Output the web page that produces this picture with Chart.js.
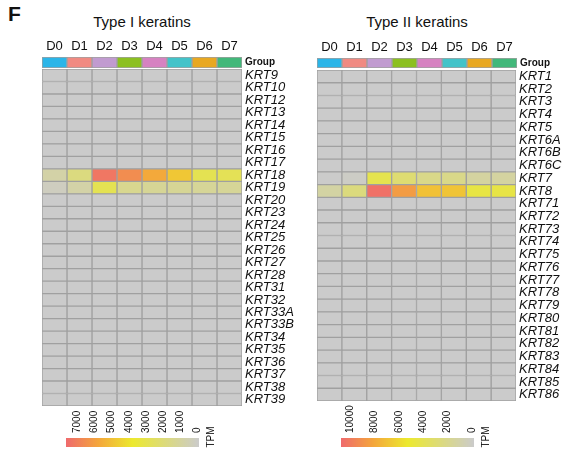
<!DOCTYPE html>
<html>
<head>
<meta charset="utf-8">
<script src="https://cdn.jsdelivr.net/npm/chart.js"></script>
<style>
body { margin: 0; width: 562px; height: 450px; position: relative; overflow: hidden; background: #fff; font-family: 'Liberation Sans', Arial, sans-serif; }
canvas { position: absolute; }
.txt { position: absolute; white-space: nowrap; color: #111; }
.tpm { position: absolute; width: 30px; height: 12px; line-height: 12px; font-size: 10px; text-align: center; transform: rotate(-90deg); color: #111; }
</style>
</head>
<body>
<div class="txt" style="left:8px;top:2px;font-size:21px;font-weight:bold">F</div>
<div class="txt" style="left:42px;width:200px;top:13px;text-align:center;font-size:15px">Type I keratins</div>
<div class="txt" style="left:317px;width:200px;top:13px;text-align:center;font-size:15px">Type II keratins</div>

<canvas id="groupI" width="262" height="32" style="left:42px;top:36px"></canvas>
<canvas id="heatI" width="258" height="337" style="left:42px;top:69px"></canvas>
<canvas id="barI" width="153" height="49" style="left:56px;top:398px"></canvas>
<div class="tpm" style="left:196px;top:431px">TPM</div>

<canvas id="groupII" width="245" height="31" style="left:317px;top:37px"></canvas>
<canvas id="heatII" width="245" height="331" style="left:317px;top:70px"></canvas>
<canvas id="barII" width="153" height="49" style="left:331px;top:398px"></canvas>
<div class="tpm" style="left:471px;top:431px">TPM</div>

<script>
const days = ['D0', 'D1', 'D2', 'D3', 'D4', 'D5', 'D6', 'D7'];
const groupColors = ['#2bb5e8', '#f08a82', '#c19bd0', '#8cc021', '#d682c1', '#43c3c9', '#e8a822', '#42b87a'];

const typeIGenes = ['KRT9', 'KRT10', 'KRT12', 'KRT13', 'KRT14', 'KRT15', 'KRT16', 'KRT17', 'KRT18', 'KRT19',
  'KRT20', 'KRT23', 'KRT24', 'KRT25', 'KRT26', 'KRT27', 'KRT28', 'KRT31', 'KRT32', 'KRT33A', 'KRT33B',
  'KRT34', 'KRT35', 'KRT36', 'KRT37', 'KRT38', 'KRT39'];
const typeIIGenes = ['KRT1', 'KRT2', 'KRT3', 'KRT4', 'KRT5', 'KRT6A', 'KRT6B', 'KRT6C', 'KRT7', 'KRT8',
  'KRT71', 'KRT72', 'KRT73', 'KRT74', 'KRT75', 'KRT76', 'KRT77', 'KRT78', 'KRT79', 'KRT80', 'KRT81',
  'KRT82', 'KRT83', 'KRT84', 'KRT85', 'KRT86'];

// TPM per day, genes not listed read as ~0
const krt18 = [900, 1900, 7400, 6700, 5800, 4900, 3000, 2900];
const krt19 = [300, 900, 3000, 1500, 1350, 1350, 1300, 1300];
const krt7 = [50, 200, 4300, 3100, 2300, 2300, 1500, 1500];
const krt8 = [1400, 2700, 10600, 8700, 7100, 7000, 4700, 4600];

const typeIMax = 7800;
const typeIIMax = 10900;
const typeITicks = [0, 1000, 2000, 3000, 4000, 5000, 6000, 7000];
const typeIITicks = [0, 2000, 4000, 6000, 8000, 10000];

const colorStops = [[0, [203, 203, 203]], [0.5, [236, 233, 46]], [0.76, [244, 165, 60]], [1, [239, 106, 109]]];
const lineColor = '#a0a0a0';

Chart.defaults.font.family = "'Liberation Sans', Arial, sans-serif";
Chart.defaults.color = '#111';

function tpmColor(v, max) {
  const f = Math.max(0, Math.min(1, v / max));
  for (let i = 1; i < colorStops.length; i++) {
    const [f1, c1] = colorStops[i];
    const [f0, c0] = colorStops[i - 1];
    if (f <= f1) {
      const t = (f - f0) / (f1 - f0);
      const c = c0.map((a, k) => Math.round(a + (c1[k] - a) * t));
      return `rgb(${c[0]},${c[1]},${c[2]})`;
    }
  }
  return 'rgb(239,106,109)';
}

const noAxisLines = { grid: { display: false, drawTicks: false }, border: { display: false } };
const basePlugins = { legend: { display: false }, tooltip: { enabled: false } };

function groupChart(id, yWidth) {
  new Chart(document.getElementById(id), {
    type: 'bar',
    data: {
      labels: ['Group'],
      datasets: days.map((d, i) => ({
        data: [1], backgroundColor: groupColors[i], borderColor: lineColor, borderWidth: 1,
        borderSkipped: false, barPercentage: 1, categoryPercentage: 1
      }))
    },
    options: {
      indexAxis: 'y', responsive: false, animation: false,
      plugins: basePlugins,
      scales: {
        x: {
          ...noAxisLines, type: 'linear', stacked: true, position: 'top', min: 0, max: 8,
          afterBuildTicks: s => { s.ticks = days.map((d, i) => ({ value: i + 0.5 })); },
          afterFit: s => { s.height = 21; s.paddingLeft = 0; s.paddingRight = 0; },
          ticks: { padding: 3, font: { size: 13 }, maxRotation: 0, autoSkip: false,
            callback: v => days[Math.floor(v)] }
        },
        y: {
          ...noAxisLines, stacked: true, position: 'right',
          afterFit: s => { s.width = yWidth; s.paddingTop = 0; s.paddingBottom = 0; },
          ticks: { padding: 3, font: { size: 10, weight: 'bold' } }
        }
      }
    }
  });
}

function heatChart(id, genes, expressed, max, yWidth) {
  new Chart(document.getElementById(id), {
    type: 'bar',
    data: {
      labels: genes,
      datasets: days.map((d, i) => ({
        data: genes.map(() => 1),
        backgroundColor: genes.map(g => tpmColor(expressed[g] ? expressed[g][i] : 0, max)),
        borderColor: lineColor, borderWidth: 1, borderSkipped: false,
        barPercentage: 1, categoryPercentage: 1
      }))
    },
    options: {
      indexAxis: 'y', responsive: false, animation: false,
      plugins: basePlugins,
      scales: {
        x: { type: 'linear', stacked: true, min: 0, max: 8, display: false },
        y: {
          ...noAxisLines, stacked: true, position: 'right',
          afterFit: s => { s.width = yWidth; s.paddingTop = 0; s.paddingBottom = 0; },
          ticks: { padding: 3, autoSkip: false, font: { size: 13, style: 'italic' } }
        }
      }
    }
  });
}

function colorBar(id, max, ticks) {
  new Chart(document.getElementById(id), {
    type: 'bar',
    data: {
      labels: [''],
      datasets: [{
        data: [[0, max]],
        backgroundColor: ctx => {
          const chart = ctx.chart;
          if (!chart.chartArea) return '#ccc';
          const x = chart.scales.x;
          const g = chart.ctx.createLinearGradient(x.getPixelForValue(0), 0, x.getPixelForValue(max), 0);
          colorStops.forEach(([f, c]) => g.addColorStop(f, `rgb(${c[0]},${c[1]},${c[2]})`));
          return g;
        },
        borderWidth: 0, barPercentage: 1, categoryPercentage: 1
      }]
    },
    options: {
      indexAxis: 'y', responsive: false, animation: false,
      layout: { padding: { left: 10, right: 10 } },
      plugins: basePlugins,
      scales: {
        x: {
          ...noAxisLines, type: 'linear', position: 'top', reverse: true, min: 0, max: max,
          afterBuildTicks: s => { s.ticks = ticks.map(v => ({ value: v })); },
          afterFit: s => { s.height = 40; s.paddingLeft = 0; s.paddingRight = 0; },
          ticks: { padding: 5, labelOffset: 10, minRotation: 90, maxRotation: 90, autoSkip: false,
            font: { size: 10 }, callback: v => String(v) }
        },
        y: { display: false }
      }
    }
  });
}

groupChart('groupI', 62);
heatChart('heatI', typeIGenes, { KRT18: krt18, KRT19: krt19 }, typeIMax, 58);
colorBar('barI', typeIMax, typeITicks);

groupChart('groupII', 45);
heatChart('heatII', typeIIGenes, { KRT7: krt7, KRT8: krt8 }, typeIIMax, 46);
colorBar('barII', typeIIMax, typeIITicks);
</script>
</body>
</html>
